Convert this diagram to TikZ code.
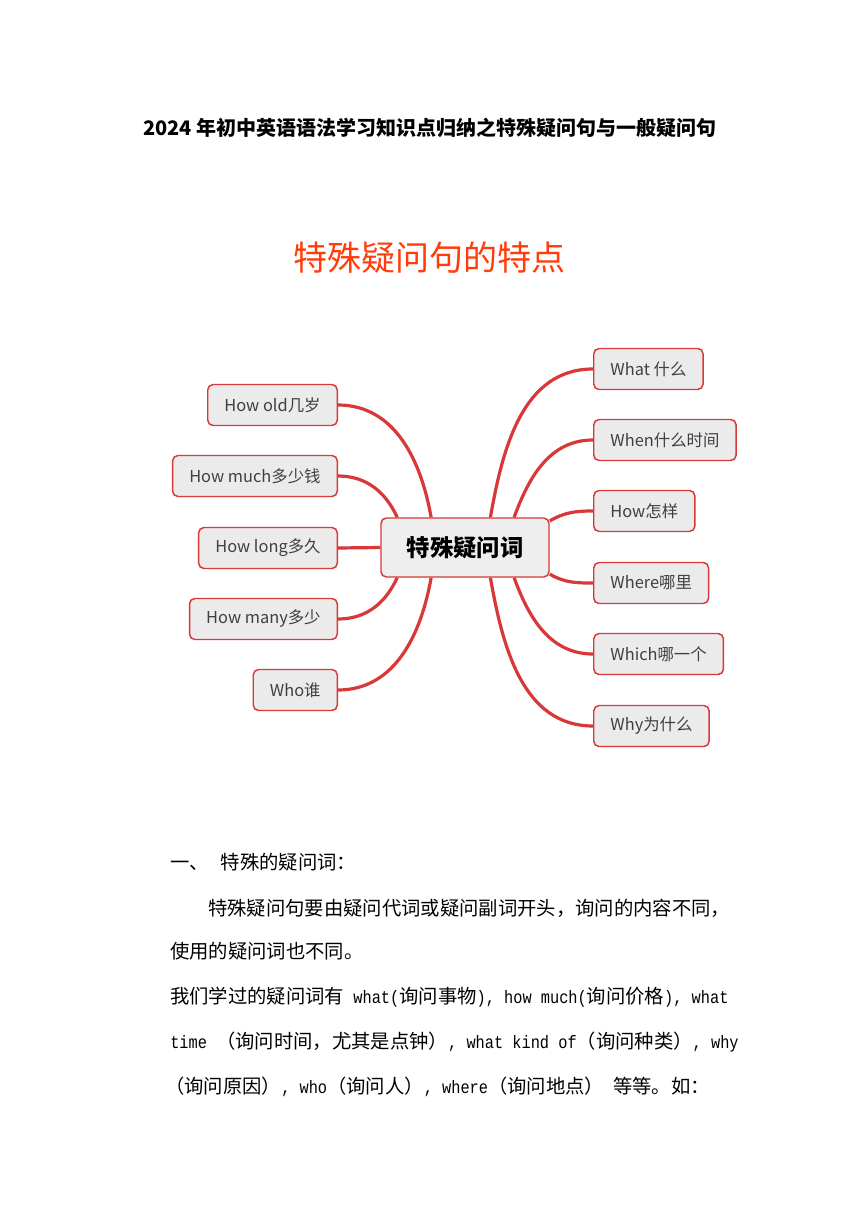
\documentclass[tikz,border=0pt]{standalone}
\usepackage{fontspec}
\setmainfont{Noto Sans CJK SC}
\newfontfamily\latmono[FakeStretch=0.85]{Liberation Mono}
\usetikzlibrary{calc}

\definecolor{linkred}{HTML}{D93838}
\definecolor{leafgray}{HTML}{EBEBEB}
\definecolor{hubgray}{HTML}{EEEEEE}
\definecolor{headred}{HTML}{FF3C0A}
\definecolor{leaftext}{HTML}{404040}

\tikzset{
  leaf/.style={draw=linkred, fill=leafgray, line width=1.1pt, rounded corners=4pt,
    minimum height=30.75pt, inner xsep=12.5pt, text=leaftext,
    font=\fontsize{12.3}{14}\selectfont},
  branch/.style={draw=linkred, line width=2.4pt},
  bodyline/.style={anchor=west, inner sep=0pt, font=\fontsize{14.5}{16}\selectfont}
}
\newcommand{\mono}[1]{{\latmono\fontsize{13.5}{16}\selectfont #1}}

\begin{document}
\begin{tikzpicture}[x=0.75pt,y=-0.75pt]
  % page
  \fill[white] (0,0) rectangle (860,1216);
  \useasboundingbox (0,0) rectangle (860,1216);

  % -------------------------
  % Headings
  % -------------------------
  \node[font=\bfseries\fontsize{15}{18}\selectfont] (title) at (430,128)
    {2024 年初中英语语法学习知识点归纳之特殊疑问句与一般疑问句};
  \node[text=headred, font=\fontsize{25.5}{30}\selectfont] (heading) at (429,258)
    {特殊疑问句的特点};

  % -------------------------
  % Mind map
  % -------------------------
  \node[leaf, fill=hubgray, text=black, minimum width=126pt, minimum height=44.25pt,
    font=\bfseries\fontsize{17.5}{20}\selectfont] (hub) at (465,547.5) {特殊疑问词};

  % Left leaves
  \node[leaf, anchor=east] (old)  at (338,405) {How old几岁};
  \node[leaf, anchor=east] (much) at (338,476) {How much多少钱};
  \node[leaf, anchor=east] (long) at (338,548) {How long多久};
  \node[leaf, anchor=east] (many) at (338,619) {How many多少};
  \node[leaf, anchor=east] (who)  at (338,690) {Who谁};

  % Right leaves
  \node[leaf, anchor=west] (what)  at (593,369) {What 什么};
  \node[leaf, anchor=west] (when)  at (593,440) {When什么时间};
  \node[leaf, anchor=west] (how)   at (593,511) {How怎样};
  \node[leaf, anchor=west] (where) at (593,583) {Where哪里};
  \node[leaf, anchor=west] (which) at (593,654) {Which哪一个};
  \node[leaf, anchor=west] (why)   at (593,726) {Why为什么};

  % Contact points on the hub
  \coordinate (nA) at ($(hub.north west)!0.10!(hub.north east)$);
  \coordinate (nB) at ($(hub.north west)!0.30!(hub.north east)$);
  \coordinate (nC) at ($(hub.north west)!0.65!(hub.north east)$);
  \coordinate (nD) at ($(hub.north west)!0.79!(hub.north east)$);
  \coordinate (sA) at ($(hub.south west)!0.10!(hub.south east)$);
  \coordinate (sB) at ($(hub.south west)!0.30!(hub.south east)$);
  \coordinate (sC) at ($(hub.south west)!0.65!(hub.south east)$);
  \coordinate (sD) at ($(hub.south west)!0.79!(hub.south east)$);
  \coordinate (eA) at ($(hub.north east)!0.06!(hub.south east)$);
  \coordinate (eB) at ($(hub.north east)!0.94!(hub.south east)$);

  % Branches
  \draw[branch] (old.east)  to[out=0,in=100] (nB);
  \draw[branch] (much.east) to[out=0,in=115] (nA);
  \draw[branch] (long.east) -- (hub.west);
  \draw[branch] (many.east) to[out=0,in=-115] (sA);
  \draw[branch] (who.east)  to[out=0,in=-100] (sB);
  \draw[branch] (what.west)  to[out=180,in=80] (nC);
  \draw[branch] (when.west)  to[out=180,in=70] (nD);
  \draw[branch] (how.west)   to[out=180,in=30] (eA);
  \draw[branch] (where.west) to[out=180,in=-30] (eB);
  \draw[branch] (which.west) to[out=180,in=-70] (sD);
  \draw[branch] (why.west)   to[out=180,in=-80] (sC);

  % -------------------------
  % Body text
  % -------------------------
  \node[bodyline] (line1) at (170,862) {一、\hspace{9pt}特殊的疑问词：};
  \node[bodyline] (line2) at (208,908) {特殊疑问句要由疑问代词或疑问副词开头，询问的内容不同，};
  \node[bodyline] (line3) at (170,951) {使用的疑问词也不同。};
  \node[bodyline] (line4) at (170,997)
    {我们学过的疑问词有\mono{ what(}询问事物\mono{), how much(}询问价格\mono{), what}};
  \node[bodyline] (line5) at (170,1042)
    {\mono{time }（询问时间，尤其是点钟）\mono{, what kind of}（询问种类）\mono{, why}};
  \node[bodyline] (line6) at (165,1087)
    {（询问原因）\mono{, who}（询问人）\mono{, where}（询问地点）\mono{ }等等。如：};
\end{tikzpicture}
\end{document}
